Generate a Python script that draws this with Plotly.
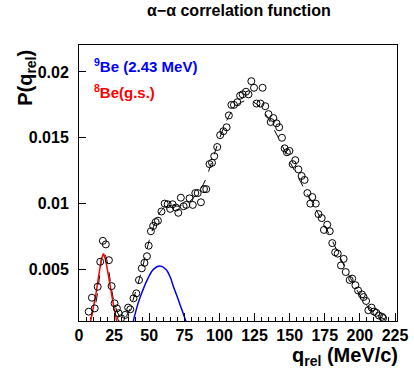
import plotly.graph_objects as go

# measured points (q_rel in MeV/c, P)
data_q = [6.9, 9.2, 11.2, 13.3, 15.1, 17.0, 19.1, 21.3, 23.2, 25.3, 27.0, 28.2, 30.0, 32.8,
          35.0, 36.5, 38.8, 40.8, 42.7, 44.7, 46.6, 48.4, 49.6, 51.2, 52.8, 54.6, 56.2, 58.7,
          61.0, 63.1, 64.9, 66.6, 69.0, 70.7, 72.5, 74.5, 76.4, 78.7, 81.0, 82.8, 84.5, 86.8,
          89.0, 90.6, 92.9, 94.7, 96.3, 98.4, 100.5, 102.8, 105.1, 106.7, 108.5, 110.3, 112.7,
          114.7, 116.5, 118.9, 120.7, 122.7, 124.6, 126.4, 129.2, 130.7, 132.6, 134.9, 136.5,
          138.4, 140.6, 142.5, 144.5, 146.4, 148.0, 149.8, 152.1, 154.0, 156.2, 158.5, 160.6,
          162.6, 164.7, 166.1, 168.6, 170.5, 172.8, 174.4, 176.7, 178.5, 180.3, 182.4, 184.2,
          186.5, 188.4, 189.9, 192.7, 194.5, 196.8, 198.7, 201.4, 202.6, 204.4, 206.0, 208.3,
          210.1, 211.7, 213.5, 215.8, 216.5]
data_p = [0.00179, 0.00285, 0.00204, 0.00368, 0.00558, 0.00717, 0.0069, 0.0057, 0.00373, 0.00242,
          0.00204, 0.00167, 0.00129, 0.00154, 0.0021, 0.00197, 0.0028, 0.00318, 0.00419, 0.00508,
          0.0055, 0.006, 0.0068, 0.0079, 0.0083, 0.0086, 0.0087, 0.0094, 0.0100, 0.00995, 0.0096,
          0.00995, 0.0097, 0.0093, 0.01045, 0.0098, 0.0099, 0.0104, 0.0099, 0.0108, 0.0108, 0.0101,
          0.0111, 0.0111, 0.0130, 0.0131, 0.0136, 0.0143, 0.0152, 0.0155, 0.0158, 0.0167, 0.0175,
          0.0175, 0.0177, 0.0182, 0.0183, 0.0185, 0.0183, 0.0193, 0.0188, 0.0176, 0.0176, 0.0188,
          0.0174, 0.0168, 0.0162, 0.0165, 0.0161, 0.0158, 0.0150, 0.0142, 0.0139, 0.0140, 0.0130,
          0.0133, 0.0126, 0.0121, 0.0118, 0.0108, 0.0100, 0.0105, 0.0100, 0.0092, 0.0089, 0.0080,
          0.0084, 0.0079, 0.0070, 0.0063, 0.0062, 0.0053, 0.0058, 0.0048, 0.0042, 0.0043, 0.0038,
          0.0034, 0.0031, 0.0029, 0.0026, 0.0019, 0.0021, 0.0018, 0.0017, 0.0015, 0.0014, 0.0013]

# total fit (dashed)
fit_q = [8, 12, 15, 17, 19, 21, 23, 25, 28, 31, 34, 37, 40, 43, 46, 50, 54, 58, 62, 66, 70, 74,
         78, 82, 86, 90, 94, 98, 102, 106, 110, 114, 118, 122, 126, 130, 134, 138, 142, 146, 150,
         154, 158, 162, 166, 170, 174, 178, 182, 186, 190, 194, 198, 202, 206, 210, 214, 218]
fit_p = [0.0012, 0.0025, 0.0048, 0.0063, 0.0060, 0.0050, 0.0036, 0.0025, 0.0016, 0.0012, 0.0015,
         0.0022, 0.0032, 0.0043, 0.0055, 0.0072, 0.0085, 0.0094, 0.0098, 0.0099, 0.0098, 0.0099,
         0.0101, 0.0105, 0.0110, 0.0118, 0.0130, 0.0143, 0.0155, 0.0165, 0.0172, 0.0176, 0.0178,
         0.0178, 0.0176, 0.0172, 0.0166, 0.0158, 0.0150, 0.0141, 0.0132, 0.0124, 0.0116, 0.0108,
         0.0101, 0.0093, 0.0085, 0.0077, 0.0068, 0.0059, 0.0050, 0.0042, 0.0034, 0.0027, 0.0021,
         0.0017, 0.0014, 0.0012]

# 8Be(g.s.) component (red)
gs_q = [8, 10, 12, 14, 16, 17.4, 19, 21, 23, 25, 27, 28]
gs_p = [0.0009, 0.0019, 0.0031, 0.0045, 0.0058, 0.0062, 0.0057, 0.0045, 0.0032, 0.0020, 0.0010, 0.0005]

# 9Be(2.43 MeV) component (blue)
ex_q = [38.5, 42, 45, 49, 53, 57.6, 62, 65, 67.2, 70, 72, 75, 77]
ex_p = [0.0010, 0.0024, 0.0033, 0.0043, 0.0050, 0.00525, 0.0050, 0.0044, 0.0037, 0.0029, 0.0023,
        0.0014, 0.0008]

x_ticks = [0, 25, 50, 75, 100, 125, 150, 175, 200, 225]
y_ticks = [0.005, 0.01, 0.015, 0.02]
y_tick_text = ["0.005", "0.01", "0.015", "0.02"]

FONT = "Liberation Sans"

fig = go.Figure()
fig.add_trace(go.Scatter(x=fit_q, y=fit_p, mode="lines", line=dict(color="black", width=1, dash="dash",
                                                                     shape="spline"), hoverinfo="skip"))
fig.add_trace(go.Scatter(x=gs_q, y=gs_p, mode="lines", line=dict(color="red", width=1.5)))
fig.add_trace(go.Scatter(x=ex_q, y=ex_p, mode="lines", line=dict(color="blue", width=1.5, shape="spline")))
fig.add_trace(go.Scatter(x=data_q, y=data_p, mode="markers",
                         marker=dict(symbol="circle-open", size=7, color="black", line=dict(width=1))))

axis_common = dict(showline=True, linecolor="black", linewidth=1, mirror=True, showgrid=False,
                   zeroline=False, ticks="inside", tickcolor="black", ticklabeloverflow="allow",
                   tickfont=dict(family=FONT, size=16, color="black", weight="bold"))

fig.update_xaxes(range=[0, 226.4], tickvals=x_ticks, ticklen=8,
                 minor=dict(dtick=5, ticks="inside", ticklen=4, tickcolor="black"),
                 **axis_common)
fig.update_yaxes(range=[0.00108, 0.02205], tickvals=y_ticks, ticktext=y_tick_text, ticklen=7,
                 ticklabelstandoff=6, **axis_common)

W, H = 414, 373
L, R, T, B = 79, 6, 45, 52
pw, ph = W - L - R, H - T - B

def px(x):
    return (x - L) / pw

def py(y):
    return (H - B - y) / ph

annots = [
    dict(text="α−α correlation function", x=px(245), y=py(11), xanchor="center", yanchor="middle",
         font=dict(family=FONT, size=16, color="black", weight="bold")),
    dict(text="P(q<sub>rel</sub>)", x=px(24), y=py(78), xanchor="center", yanchor="middle",
         textangle=-90, font=dict(family=FONT, size=20, color="black", weight="bold")),
    dict(text="q<sub>rel</sub> (MeV/c)", x=px(411), y=py(356), xanchor="right", yanchor="middle",
         font=dict(family=FONT, size=20, color="black", weight="bold")),
    dict(text="<sup>9</sup>Be (2.43 MeV)", x=px(92), y=py(65), xanchor="left", yanchor="middle",
         font=dict(family=FONT, size=15, color="blue", weight="bold")),
    dict(text="<sup>8</sup>Be(g.s.)", x=px(92), y=py(91), xanchor="left", yanchor="middle",
         font=dict(family=FONT, size=15, color="red", weight="bold")),
]
for a in annots:
    a.update(xref="paper", yref="paper", showarrow=False)

fig.update_layout(width=W, height=H, margin=dict(l=L, r=R, t=T, b=B), showlegend=False,
                  plot_bgcolor="white", paper_bgcolor="white", annotations=annots)

fig.write_html("out.html")
